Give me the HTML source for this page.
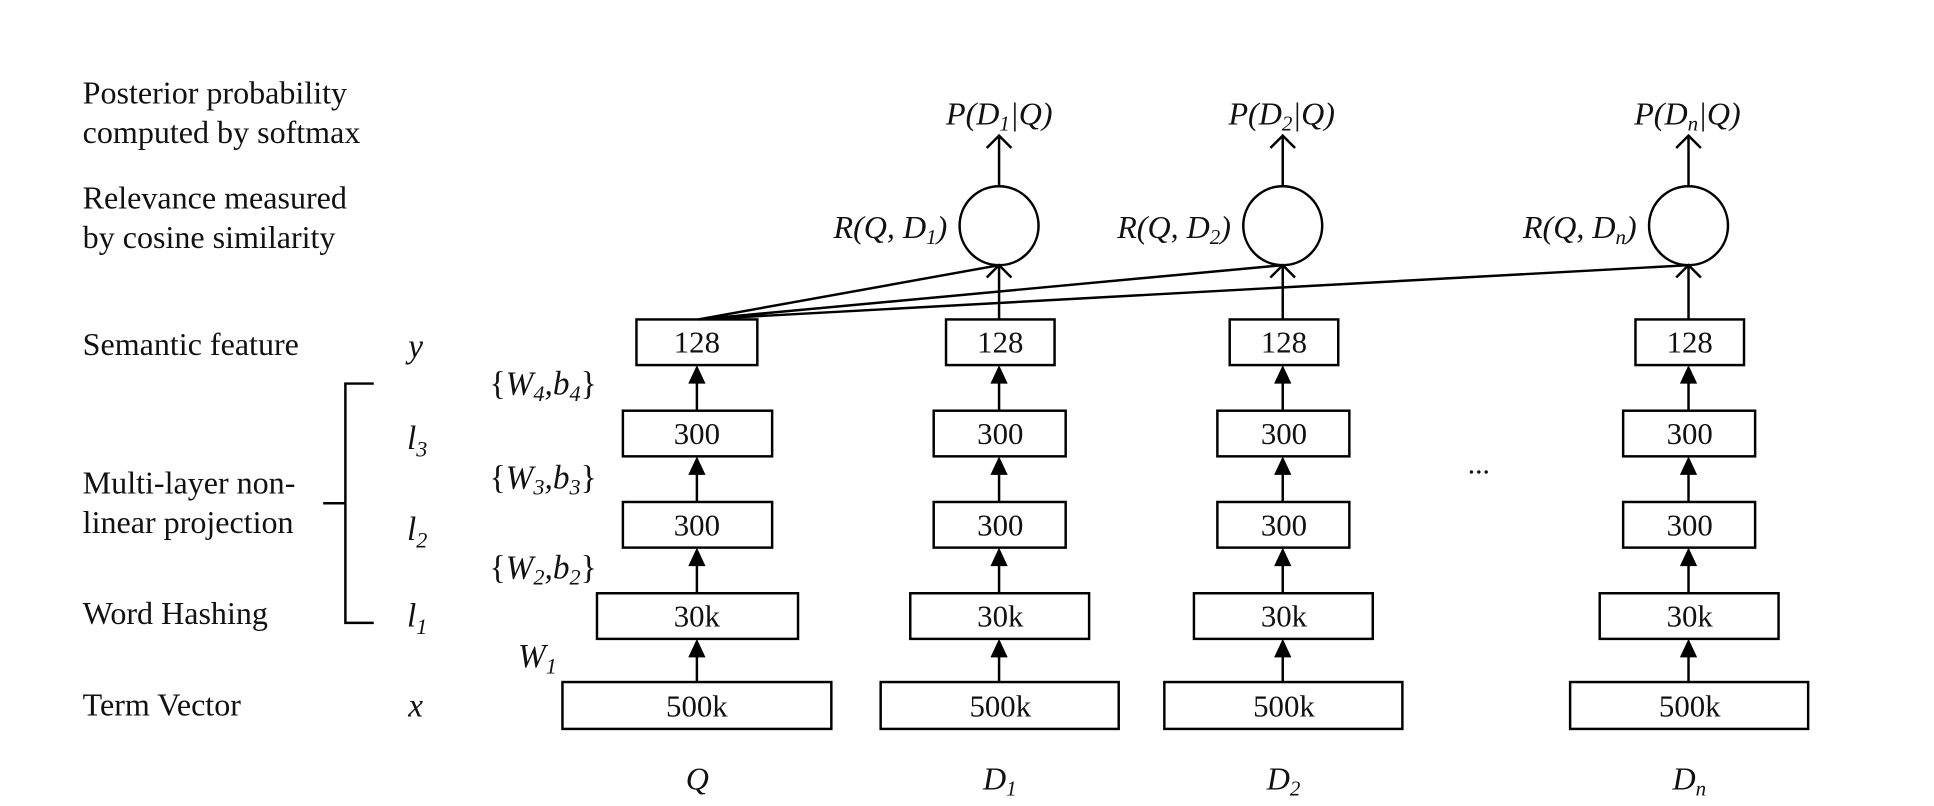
<!DOCTYPE html>
<html><head><style>
html,body{margin:0;padding:0;background:#fff;}
svg{display:block;}
text{font-family:"Liberation Serif",serif;fill:#111;}
.it{font-style:italic;}
</style></head><body>
<svg width="1934" height="806" viewBox="0 0 1568 653.5" xmlns="http://www.w3.org/2000/svg">
<g font-size="26">
<text x="67" y="84">Posterior probability</text>
<text x="67" y="116">computed by softmax</text>
<text x="67" y="169">Relevance measured</text>
<text x="67" y="201">by cosine similarity</text>
<text x="67" y="288">Semantic feature</text>
<text x="67" y="400">Multi-layer non-</text>
<text x="67" y="432">linear projection</text>
<text x="67" y="506">Word Hashing</text>
<text x="67" y="580">Term Vector</text>
</g>
<g font-size="27">
<text x="331" y="290" class="it">y</text>
<text x="330" y="364" class="it">l<tspan font-size="18" dy="6">3</tspan></text>
<text x="330" y="438" class="it">l<tspan font-size="18" dy="6">2</tspan></text>
<text x="330" y="508" class="it">l<tspan font-size="18" dy="6">1</tspan></text>
<text x="331" y="581" class="it">x</text>
<text x="397" y="320">{<tspan class="it">W</tspan><tspan class="it" font-size="18" dy="5">4</tspan><tspan class="it" dy="-5">,b</tspan><tspan class="it" font-size="18" dy="5">4</tspan><tspan dy="-5">}</tspan></text>
<text x="397" y="396">{<tspan class="it">W</tspan><tspan class="it" font-size="18" dy="5">3</tspan><tspan class="it" dy="-5">,b</tspan><tspan class="it" font-size="18" dy="5">3</tspan><tspan dy="-5">}</tspan></text>
<text x="397" y="469">{<tspan class="it">W</tspan><tspan class="it" font-size="18" dy="5">2</tspan><tspan class="it" dy="-5">,b</tspan><tspan class="it" font-size="18" dy="5">2</tspan><tspan dy="-5">}</tspan></text>
<text x="420" y="541" class="it">W<tspan font-size="18" dy="5">1</tspan></text>
</g>
<g stroke="#000" stroke-width="2" fill="none">
<path d="M303,311 H280 V505 H303 M262,408 H280"/>
</g>
<text x="1190" y="384" font-size="24">...</text>

<g stroke="#000" stroke-width="2" fill="#fff">
<rect x="516" y="259" width="98" height="37"/>
<rect x="505" y="333" width="121" height="37"/>
<rect x="505" y="407" width="121" height="37"/>
<rect x="484" y="481" width="163" height="37"/>
<rect x="456" y="553" width="218" height="38"/>
<rect x="767" y="259" width="88" height="37"/>
<rect x="757" y="333" width="107" height="37"/>
<rect x="757" y="407" width="107" height="37"/>
<rect x="738" y="481" width="145" height="37"/>
<rect x="714" y="553" width="193" height="38"/>
<rect x="997" y="259" width="88" height="37"/>
<rect x="987" y="333" width="107" height="37"/>
<rect x="987" y="407" width="107" height="37"/>
<rect x="968" y="481" width="145" height="37"/>
<rect x="944" y="553" width="193" height="38"/>
<rect x="1326" y="259" width="88" height="37"/>
<rect x="1316" y="333" width="107" height="37"/>
<rect x="1316" y="407" width="107" height="37"/>
<rect x="1297" y="481" width="145" height="37"/>
<rect x="1273" y="553" width="193" height="38"/>
<circle cx="810" cy="183" r="32"/>
<circle cx="1040" cy="183" r="32"/>
<circle cx="1369" cy="183" r="32"/>
</g>
<g font-size="25" text-anchor="middle">
<text x="565" y="286">128</text><text x="811" y="286">128</text><text x="1041" y="286">128</text><text x="1370" y="286">128</text>
<text x="565" y="360">300</text><text x="811" y="360">300</text><text x="1041" y="360">300</text><text x="1370" y="360">300</text>
<text x="565" y="434">300</text><text x="811" y="434">300</text><text x="1041" y="434">300</text><text x="1370" y="434">300</text>
<text x="565" y="508">30k</text><text x="811" y="508">30k</text><text x="1041" y="508">30k</text><text x="1370" y="508">30k</text>
<text x="565" y="581">500k</text><text x="811" y="581">500k</text><text x="1041" y="581">500k</text><text x="1370" y="581">500k</text>
</g>
<g stroke="#000" stroke-width="2">
<line x1="565" y1="553" x2="565" y2="530"/><line x1="565" y1="481" x2="565" y2="456"/><line x1="565" y1="407" x2="565" y2="382"/><line x1="565" y1="333" x2="565" y2="308"/>
<line x1="810" y1="553" x2="810" y2="530"/><line x1="810" y1="481" x2="810" y2="456"/><line x1="810" y1="407" x2="810" y2="382"/><line x1="810" y1="333" x2="810" y2="308"/>
<line x1="1040" y1="553" x2="1040" y2="530"/><line x1="1040" y1="481" x2="1040" y2="456"/><line x1="1040" y1="407" x2="1040" y2="382"/><line x1="1040" y1="333" x2="1040" y2="308"/>
<line x1="1369" y1="553" x2="1369" y2="530"/><line x1="1369" y1="481" x2="1369" y2="456"/><line x1="1369" y1="407" x2="1369" y2="382"/><line x1="1369" y1="333" x2="1369" y2="308"/>
</g>
<g fill="#000">
<path d="M565,518 l-7,15 h14z M565,444 l-7,15 h14z M565,370 l-7,15 h14z M565,296 l-7,15 h14z"/>
<path d="M810,518 l-7,15 h14z M810,444 l-7,15 h14z M810,370 l-7,15 h14z M810,296 l-7,15 h14z"/>
<path d="M1040,518 l-7,15 h14z M1040,444 l-7,15 h14z M1040,370 l-7,15 h14z M1040,296 l-7,15 h14z"/>
<path d="M1369,518 l-7,15 h14z M1369,444 l-7,15 h14z M1369,370 l-7,15 h14z M1369,296 l-7,15 h14z"/>
</g>
<g stroke="#000" stroke-width="2" fill="none">
<path d="M810,259 V215 M800,225 L810,215 L820,225"/>
<path d="M1040,259 V215 M1030,225 L1040,215 L1050,225"/>
<path d="M1369,259 V215 M1359,225 L1369,215 L1379,225"/>
<path d="M810,151 V110 M800,120 L810,110 L820,120"/>
<path d="M1040,151 V110 M1030,120 L1040,110 L1050,120"/>
<path d="M1369,151 V110 M1359,120 L1369,110 L1379,120"/>
<path d="M566,259 L810,215 M566,259 L1040,215 M566,259 L1369,215"/>
</g>
<g font-size="26">
<text x="767" y="101" class="it">P(D<tspan font-size="17" dy="5">1</tspan><tspan dy="-5">|Q)</tspan></text>
<text x="996" y="101" class="it">P(D<tspan font-size="17" dy="5">2</tspan><tspan dy="-5">|Q)</tspan></text>
<text x="1325" y="101" class="it">P(D<tspan font-size="17" dy="5">n</tspan><tspan dy="-5">|Q)</tspan></text>
<text x="768" y="193" text-anchor="end" class="it">R(Q, D<tspan font-size="17" dy="5">1</tspan><tspan dy="-5">)</tspan></text>
<text x="998" y="193" text-anchor="end" class="it">R(Q, D<tspan font-size="17" dy="5">2</tspan><tspan dy="-5">)</tspan></text>
<text x="1327" y="193" text-anchor="end" class="it">R(Q, D<tspan font-size="17" dy="5">n</tspan><tspan dy="-5">)</tspan></text>
<text x="556" y="640" class="it">Q</text>
<text x="797" y="640" class="it">D<tspan font-size="17" dy="5">1</tspan></text>
<text x="1027" y="640" class="it">D<tspan font-size="17" dy="5">2</tspan></text>
<text x="1356" y="640" class="it">D<tspan font-size="17" dy="5">n</tspan></text>
</g>
</svg>
</body></html>
